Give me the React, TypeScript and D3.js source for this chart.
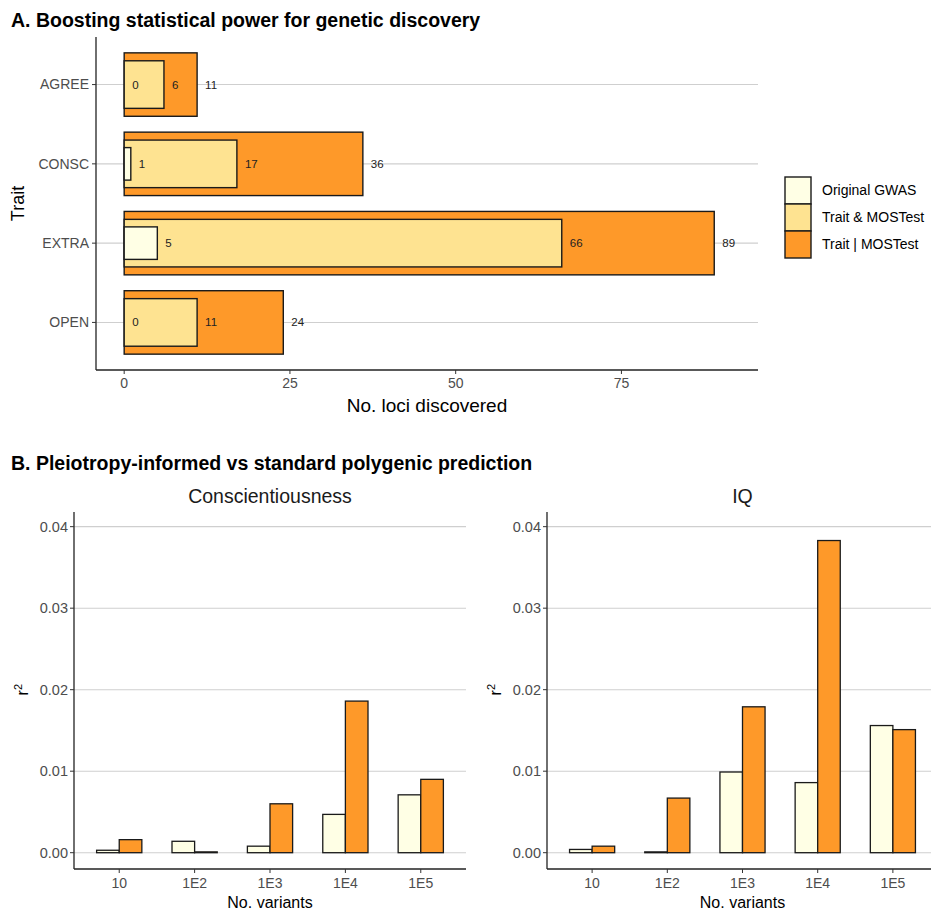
import React, { useLayoutEffect } from "react";
import * as d3 from "d3";

const traits = ["AGREE", "CONSC", "EXTRA", "OPEN"];
const lociOriginal = [0, 1, 5, 0];
const lociAnd = [6, 17, 66, 11];
const lociOr = [11, 36, 89, 24];
const lociTicks = [0, 25, 50, 75];

const seriesNames = ["Original GWAS", "Trait & MOSTest", "Trait | MOSTest"];
const seriesColors = ["#FFFFE5", "#FEE391", "#FE9929"];

const variants = ["10", "1E2", "1E3", "1E4", "1E5"];
const conscOriginal = [0.0003, 0.0014, 0.0008, 0.0047, 0.0071];
const conscMostest = [0.0016, 0.0001, 0.006, 0.0186, 0.009];
const iqOriginal = [0.0004, 0.0001, 0.0099, 0.0086, 0.0156];
const iqMostest = [0.0008, 0.0067, 0.0179, 0.0383, 0.0151];
const r2Ticks = [0, 0.01, 0.02, 0.03, 0.04];

const FONT = "Liberation Sans, Arial, sans-serif";
const GRID = "#cfcfcf";
const TICKTXT = "#4d4d4d";

function PanelA() {
  const left = 96, right = 758, top = 37, bottom = 370;
  const x = d3.scaleLinear().domain([-4.25, 95.6]).range([left, right]);
  const y = d3.scaleBand().domain(traits).range([top, bottom]).paddingOuter(0.1).paddingInner(0);
  const bw = y.bandwidth();
  const cy = (t: string) => (y(t) as number) + bw / 2;
  const layers = [
    { vals: lociOr, frac: 0.8, color: seriesColors[2] },
    { vals: lociAnd, frac: 0.6, color: seriesColors[1] },
    { vals: lociOriginal, frac: 0.41, color: seriesColors[0] },
  ];
  return (
    <g fontFamily={FONT}>
      <text x={11} y={27} fontSize={19.5} fontWeight="bold" fill="#000">
        A. Boosting statistical power for genetic discovery
      </text>
      {traits.map((t) => (
        <line key={t} x1={left} x2={right} y1={cy(t)} y2={cy(t)} stroke={GRID} strokeWidth={1.1} />
      ))}
      {layers.map((L, li) =>
        traits.map((t, i) => (
          <rect
            key={li + t}
            x={x(0)}
            y={cy(t) - (L.frac * bw) / 2}
            width={x(L.vals[i]) - x(0)}
            height={L.frac * bw}
            fill={L.color}
            stroke="#1a1a1a"
            strokeWidth={1.4}
          />
        ))
      )}
      {layers.map((L, li) =>
        traits.map((t, i) => (
          <text key={"l" + li + t} x={x(L.vals[i]) + 8} y={cy(t)} dy="0.35em" fontSize={11.5} fill="#222">
            {L.vals[i]}
          </text>
        ))
      )}
      <line x1={left} x2={left} y1={top} y2={bottom} stroke="#222" strokeWidth={1.3} />
      <line x1={left} x2={right} y1={bottom} y2={bottom} stroke="#222" strokeWidth={1.3} />
      {traits.map((t) => (
        <g key={"yt" + t}>
          <line x1={left - 4} x2={left} y1={cy(t)} y2={cy(t)} stroke="#333" />
          <text x={left - 7} y={cy(t)} dy="0.35em" textAnchor="end" fontSize={14} fill={TICKTXT}>
            {t}
          </text>
        </g>
      ))}
      {lociTicks.map((v) => (
        <g key={"xt" + v}>
          <line x1={x(v)} x2={x(v)} y1={bottom} y2={bottom + 4} stroke="#333" />
          <text x={x(v)} y={bottom + 13} dy="0.35em" textAnchor="middle" fontSize={14} fill={TICKTXT}>
            {v}
          </text>
        </g>
      ))}
      <text x={(left + right) / 2} y={405} dy="0.35em" textAnchor="middle" fontSize={19} fill="#000">
        No. loci discovered
      </text>
      <text transform={`translate(18,${(top + bottom) / 2}) rotate(-90)`} dy="0.35em" textAnchor="middle" fontSize={18} fill="#000">
        Trait
      </text>
      {seriesNames.map((s, i) => (
        <g key={s}>
          <rect x={785} y={177 + i * 27} width={26} height={27} fill={seriesColors[i]} stroke="#1a1a1a" strokeWidth={1.4} />
          <text x={822} y={177 + i * 27 + 13.5} dy="0.35em" fontSize={14} fill="#000">
            {s}
          </text>
        </g>
      ))}
    </g>
  );
}

function Facet({ title, orig, most, left, right }: { title: string; orig: number[]; most: number[]; left: number; right: number }) {
  const top = 512, bottom = 869;
  const y = d3.scaleLinear().domain([-0.002, 0.0418]).range([bottom, top]);
  const x = d3.scaleBand().domain(variants).range([left, right]).paddingOuter(0.1).paddingInner(0);
  const bw = x.bandwidth();
  const cx = (v: string) => (x(v) as number) + bw / 2;
  const barW = bw * 0.3;
  const series = [
    { vals: orig, color: seriesColors[0], off: -barW },
    { vals: most, color: seriesColors[2], off: 0 },
  ];
  return (
    <g fontFamily={FONT}>
      <text x={(left + right) / 2} y={496} dy="0.35em" textAnchor="middle" fontSize={19.5} fill="#1a1a1a">
        {title}
      </text>
      {r2Ticks.map((t) => (
        <line key={"g" + t} x1={left} x2={right} y1={y(t)} y2={y(t)} stroke={GRID} strokeWidth={1.1} />
      ))}
      {series.map((S, si) =>
        variants.map((v, i) => (
          <rect
            key={si + v}
            x={cx(v) + S.off}
            y={y(S.vals[i])}
            width={barW}
            height={y(0) - y(S.vals[i])}
            fill={S.color}
            stroke="#1a1a1a"
            strokeWidth={1.3}
          />
        ))
      )}
      <line x1={left} x2={left} y1={top} y2={bottom} stroke="#222" strokeWidth={1.3} />
      <line x1={left} x2={right} y1={bottom} y2={bottom} stroke="#222" strokeWidth={1.3} />
      {r2Ticks.map((t) => (
        <g key={"yt" + t}>
          <line x1={left - 4} x2={left} y1={y(t)} y2={y(t)} stroke="#333" />
          <text x={left - 6} y={y(t)} dy="0.35em" textAnchor="end" fontSize={14.5} fill={TICKTXT}>
            {d3.format(".2f")(t)}
          </text>
        </g>
      ))}
      {variants.map((v) => (
        <g key={"xt" + v}>
          <line x1={cx(v)} x2={cx(v)} y1={bottom} y2={bottom + 4} stroke="#333" />
          <text x={cx(v)} y={bottom + 14} dy="0.35em" textAnchor="middle" fontSize={14} fill={TICKTXT}>
            {v}
          </text>
        </g>
      ))}
      <text x={(left + right) / 2} y={902} dy="0.35em" textAnchor="middle" fontSize={16} fill="#000">
        No. variants
      </text>
      <text transform={`translate(${left - 52},${y(0.02)}) rotate(-90)`} dy="0.35em" textAnchor="middle" fontSize={16} fill="#000">
        r<tspan baselineShift="super" fontSize={11}>2</tspan>
      </text>
    </g>
  );
}

export default function App() {
  useLayoutEffect(() => {
    document.body.style.margin = "0";
  }, []);
  return (
    <svg width={931} height={911} style={{ display: "block", background: "#fff" }}>
      <rect width={931} height={911} fill="#fff" />
      <PanelA />
      <text x={11} y={470} fontSize={19.5} fontWeight="bold" fontFamily={FONT} fill="#000">
        B. Pleiotropy-informed vs standard polygenic prediction
      </text>
      <Facet title="Conscientiousness" orig={conscOriginal} most={conscMostest} left={74} right={466} />
      <Facet title="IQ" orig={iqOriginal} most={iqMostest} left={547} right={938} />
    </svg>
  );
}
